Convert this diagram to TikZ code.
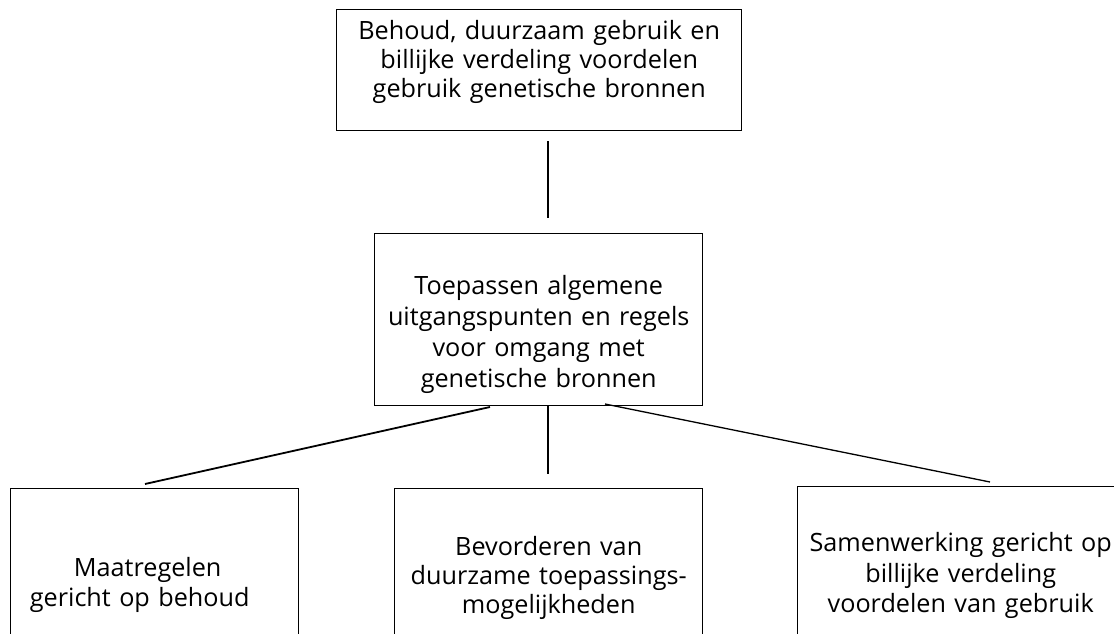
\documentclass[tikz,border=0pt]{standalone}
\usepackage{fontspec}
\setmainfont{Open Sans}
\begin{document}
\begin{tikzpicture}[x=1pt,y=-1pt,
  box/.style={draw, line width=1.4pt, inner sep=0pt, align=center, anchor=north west,
    font=\fontsize{25.2}{29}\selectfont},
  link/.style={line width=1.3pt}]
\useasboundingbox (0,0) rectangle (1114,634);
\clip (0,0) rectangle (1114,634);
% boxes
\node[box, text width=405pt, text height=30pt, text depth=91pt] (goal) at (336,9)
  {Behoud, duurzaam gebruik en\\ billijke verdeling voordelen\\ gebruik genetische bronnen};
\node[box, font=\fontsize{25.2}{31}\selectfont, text width=328pt, text height=61pt, text depth=111pt] (rules) at (374,233)
  {Toepassen algemene\\ uitgangspunten en regels\\ voor omgang met\\ genetische bronnen};
\node[box, font=\fontsize{25.2}{30}\selectfont, text width=288pt, text height=88pt, text depth=200pt] (keep) at (10,488)
  {Maatregelen\kern14pt\\ gericht op behoud\kern30pt};
\node[box, font=\fontsize{25.2}{29}\selectfont, text width=308pt, text height=67pt, text depth=200pt] (use) at (394,488)
  {Bevorderen van\\ duurzame toepassings-\\ mogelijkheden};
\node[box, font=\fontsize{25.2}{30.5}\selectfont, text width=326pt, text height=65pt, text depth=200pt] (share) at (797,486)
  {Samenwerking gericht op\\ billijke verdeling\\ voordelen van gebruik};
% connector end points
\coordinate (g1) at (548,141);
\coordinate (r1) at (548,218);
\coordinate (rl) at (490,407);
\coordinate (kl) at (145,484);
\coordinate (rm) at (548,405);
\coordinate (um) at (548,474);
\coordinate (rr) at (605,404);
\coordinate (sr) at (990,482);
\draw[link] (g1) -- (r1);
\draw[link, line width=1.8pt] (rl) -- (kl);
\draw[link] (rm) -- (um);
\draw[link] (rr) -- (sr);
\end{tikzpicture}
\end{document}
